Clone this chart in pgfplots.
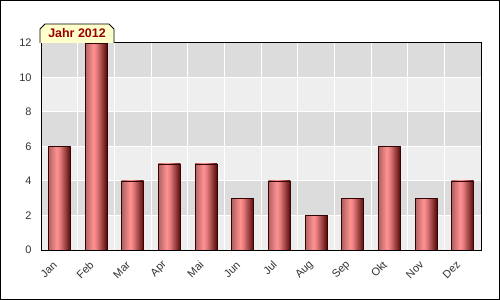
\documentclass[border=0pt]{standalone}
\usepackage{pgfplots}
\pgfplotsset{compat=1.18}
\usepackage{fontspec}
\setmainfont{Liberation Sans}
\definecolor{bandA}{HTML}{DCDCDC}
\definecolor{bandB}{HTML}{EEEEEE}
\definecolor{tickc}{HTML}{333333}
\definecolor{barL}{HTML}{B06060}
\definecolor{barM}{HTML}{FF9292}
\definecolor{barR}{HTML}{560808}
\definecolor{titlefill}{HTML}{FFFFCC}
\definecolor{titletext}{HTML}{990000}
\pgfdeclarehorizontalshading{barshade}{100bp}{color(0bp)=(barL); color(25bp)=(barL); color(44bp)=(barM); color(51bp)=(barM!85!barR); color(75bp)=(barR); color(100bp)=(barR)}
\pgfplotsset{barst/.style={draw=barR!60!black, line width=0.4bp, shading=barshade, bar shift=0pt}}
\begin{document}
\begin{tikzpicture}
\useasboundingbox (0,0) rectangle (500bp,300bp);
\fill[white] (0,0) rectangle (500bp,300bp);
\foreach \k/\c in {0/bandB,1/bandA,2/bandB,3/bandA,4/bandB,5/bandA}{
  \fill[\c] (41bp,{50bp+\k*34.5bp}) rectangle (481bp,{50bp+(\k+1)*34.5bp});
}
\begin{axis}[
  at={(41bp,50bp)}, anchor=south west,
  scale only axis, width=440bp, height=207bp,
  xmin=-0.5, xmax=11.5, ymin=0, ymax=12,
  ytick={0,2,...,12},
  xtick={0,...,11},
  xticklabels={Jan,Feb,Mar,Apr,Mai,Jun,Jul,Aug,Sep,Okt,Nov,Dez},
  minor xtick={0.5,1.5,...,10.5},
  xminorgrids, ymajorgrids,
  major grid style={white, line width=1bp},
  minor grid style={white, line width=1bp},
  major tick length=0pt, minor tick length=0pt,
  axis line style={black, line width=1bp},
  /pgf/number format/assume math mode=true,
  tick label style={font=\fontsize{11}{13}\selectfont, text=tickc},
  yticklabel style={xshift=-6bp},
  xticklabel style={rotate=45, anchor=east, inner sep=0bp, xshift=-3bp, yshift=3bp},
  xticklabel shift=13bp,
  ybar, bar width=0.6,
]
\addplot[barst] coordinates {(0,6)};
\addplot[barst] coordinates {(1,12)};
\addplot[barst] coordinates {(2,4)};
\addplot[barst] coordinates {(3,5)};
\addplot[barst] coordinates {(4,5)};
\addplot[barst] coordinates {(5,3)};
\addplot[barst] coordinates {(6,4)};
\addplot[barst] coordinates {(7,2)};
\addplot[barst] coordinates {(8,3)};
\addplot[barst] coordinates {(9,6)};
\addplot[barst] coordinates {(10,3)};
\addplot[barst] coordinates {(11,4)};
\end{axis}
\draw[black, fill=titlefill, line width=0.8bp] (40bp,257bp) -- (40bp,271bp) -- (45bp,276bp) -- (109bp,276bp) -- (114bp,271bp) -- (114bp,257bp);
\node[text=titletext, font=\fontsize{12.5}{14}\selectfont\bfseries] at (77bp,266.5bp) {Jahr 2012};
\draw[black, line width=1bp] (0.5bp,0.5bp) rectangle (499.5bp,299.5bp);
\end{tikzpicture}
\end{document}
